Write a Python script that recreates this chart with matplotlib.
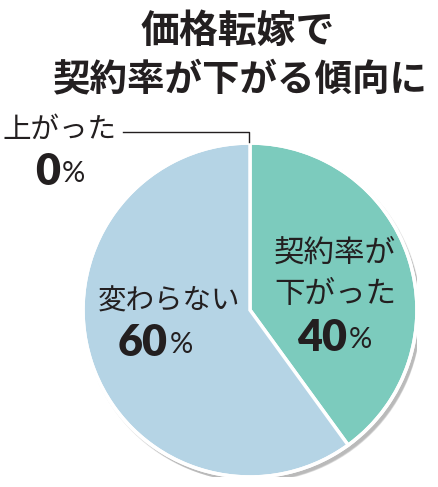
import numpy as np
import matplotlib.pyplot as plt
from matplotlib.patches import Circle

plt.rcParams['font.family'] = ['Noto Sans CJK JP', 'DejaVu Sans']

# data
labels = ['上がった', '契約率が\n下がった', '変わらない']
values = [0, 40, 60]
colors = ['#7ccbbd', '#7ccbbd', '#b5d4e5']
title_lines = ['価格転嫁で', '契約率が下がる傾向に']

W, H = 438, 487
fig = plt.figure(figsize=(W / 100, H / 100), dpi=100)
fig.patch.set_facecolor('white')

# pie axes: centre (250, 310) px, radius 167 px
cx, cy, r = 250, 310, 167
ax = fig.add_axes([(cx - r) / W, (H - cy - r) / H, 2 * r / W, 2 * r / H])
ax.set_xlim(-1, 1)
ax.set_ylim(-1, 1)
ax.set_aspect('equal')
ax.axis('off')

# soft shadow
for i, a in enumerate([0.10, 0.10, 0.12, 0.15]):
    off = 0.012 + 0.004 * i
    ax.add_patch(Circle((off, -off * 1.3), 1.0 + 0.012 - 0.004 * i,
                        color='#555555', alpha=a, lw=0, zorder=0))

ax.pie(values, colors=colors, startangle=90, counterclock=False,
       radius=1.0, wedgeprops=dict(edgecolor='white', linewidth=2.5, zorder=1))
ax.add_patch(Circle((0, 0), 1.0, fill=False, ec='white', lw=2.5, zorder=2))
ax.set_xlim(-1, 1)
ax.set_ylim(-1, 1)

# overlay in pixel coordinates for labels
ov = fig.add_axes([0, 0, 1, 1], facecolor='none')
ov.set_xlim(0, W)
ov.set_ylim(H, 0)
ov.axis('off')

tc = '#231f20'
ov.text(238, 31, title_lines[0], fontsize=28, fontweight='bold', color=tc,
        ha='center', va='center')
ov.text(240, 79, title_lines[1], fontsize=27, fontweight='bold', color=tc,
        ha='center', va='center')

# 0% callout
ov.text(60, 130, labels[0], fontsize=20.5, color=tc, ha='center', va='center')
ov.plot([123, 249, 249], [132, 132, 142], color=tc, lw=1)

def pct(x, y, v):
    ov.text(x, y, str(v), fontsize=31, fontweight='heavy', color=tc,
            ha='right', va='center', family=['Lato', 'DejaVu Sans'])
    ov.text(x + 2, y + 2, '%', fontsize=21, color=tc,
            ha='left', va='center', family=['Lato', 'DejaVu Sans'])

pct(60, 172, values[0])

ov.text(335, 274, labels[1], fontsize=22, color=tc, ha='center', va='center',
        linespacing=1.4)
pct(347, 338, values[1])

ov.text(169, 302, labels[2], fontsize=20.5, color=tc, ha='center', va='center')
pct(168, 343, values[2])

fig.savefig('out.png', dpi=100, facecolor='white')
